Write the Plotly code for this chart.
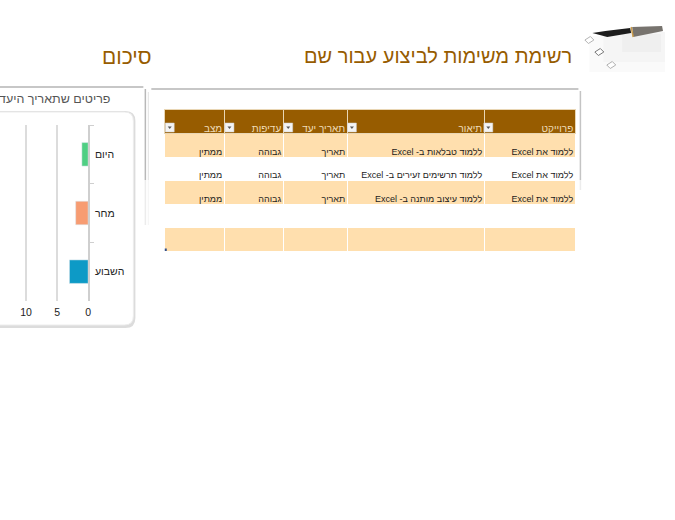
import plotly.graph_objects as go

W, H = 675, 520
BROWN = '#975c00'

# bar chart values
periods = ['היום', 'מחר', 'השבוע']
counts = [1, 2, 3]
bar_colors = ['#4fcf83', '#f79c72', '#0d9ac6']
x_ticks = [0, 5, 10]

# table values
columns = ['מצב', 'עדיפות', 'תאריך יעד', 'תיאור', 'פרוייקט']
col_widths = [60, 59, 64, 137, 91]
status = ['ממתין', 'ממתין', 'ממתין', '', '']
priority = ['גבוהה', 'גבוהה', 'גבוהה', '', '']
due = ['תאריך', 'תאריך', 'תאריך', '', '']
descr = ['\u202bללמוד טבלאות ב- Excel', '\u202bללמוד תרשימים זעירים ב- Excel',
         '\u202bללמוד עיצוב מותנה ב- Excel', '', '']
project = ['\u202bללמוד את Excel', '\u202bללמוד את Excel', '\u202bללמוד את Excel', '', '']
row_fill = ['#ffdfae', '#ffffff', '#ffdfae', '#ffffff', '#ffdfae']


def px(x):
    return x / W


def py(y):
    return 1 - y / H


def nowrap(items):
    # go.Table breaks lines at plain spaces
    return [s.replace(' ', '\u00a0') for s in items]


fig = go.Figure()

fig.add_trace(go.Bar(
    y=periods, x=counts, orientation='h', width=0.4,
    marker=dict(color=bar_colors, line=dict(color='#d8e4ea', width=0.5)),
    cliponaxis=False, showlegend=False,
))

# cell backgrounds only
blank = [''] * 5
fig.add_trace(go.Table(
    domain=dict(x=[px(165), px(578)], y=[py(255), py(109.5)]),
    columnwidth=col_widths,
    header=dict(values=[''] * 5, height=24, fill_color=BROWN, line=dict(color='#e9d6b4', width=1)),
    cells=dict(values=[blank] * 5, height=23.5,
               fill_color=[row_fill] * 5, line=dict(color='#ffffff', width=1)),
))
# text layer, nudged so the words sit low and right in each cell as in Excel
fig.add_trace(go.Table(
    domain=dict(x=[px(171), px(584)], y=[py(262), py(116)]),
    columnwidth=col_widths,
    header=dict(values=nowrap(columns), height=24, align='right',
                fill_color='rgba(0,0,0,0)', line=dict(color='rgba(0,0,0,0)', width=0),
                font=dict(family='Liberation Sans', size=10, color='#f0dcb8')),
    cells=dict(values=[nowrap(c) for c in (status, priority, due, descr, project)], height=23.5, align='right',
               fill_color='rgba(0,0,0,0)', line=dict(color='rgba(0,0,0,0)', width=0),
               font=dict(family='Liberation Sans', size=9, color='#1c1c1c')),
))

shapes = []


def rect(x0, y0, x1, y1, **kw):
    shapes.append(dict(type='rect', xref='paper', yref='paper',
                       x0=px(x0), x1=px(x1), y0=py(y0), y1=py(y1), **kw))


def poly(pts, **kw):
    p = 'M ' + ' L '.join(f'{px(x)} {py(y)}' for x, y in pts) + ' Z'
    shapes.append(dict(type='path', xref='paper', yref='paper', path=p, **kw))


def round_box(x0, y0, x1, y1, r, **kw):
    p = (f'M {px(x0)} {py(y0)} L {px(x1 - r)} {py(y0)} Q {px(x1)} {py(y0)} {px(x1)} {py(y0 + r)} '
         f'L {px(x1)} {py(y1 - r)} Q {px(x1)} {py(y1)} {px(x1 - r)} {py(y1)} '
         f'L {px(x0)} {py(y1)} Z')
    shapes.append(dict(type='path', xref='paper', yref='paper', path=p, **kw))


def line(x0, y0, x1, y1, color, width=1):
    shapes.append(dict(type='line', xref='paper', yref='paper', layer='below',
                       x0=px(x0), x1=px(x1), y0=py(y0), y1=py(y1),
                       line=dict(color=color, width=width)))


# outer panels (right edges fade out)
line(-5, 87, 144, 87, '#b5b5b5', 1.5)
line(146, 89, 146, 180, '#b8b8b8', 1.5)
line(146, 180, 146, 225, '#ececec', 1.5)
line(149, 92, 149, 180, '#e2e2e2')
line(149, 180, 149, 225, '#f4f4f4')
line(152, 89, 581, 89, '#b5b5b5', 1.5)
line(583, 91, 583, 180, '#c4c4c4', 1.5)
line(583, 180, 583, 190, '#ececec', 1.5)

# inner chart card with soft grey rim
round_box(-10, 111, 136, 328, 10, layer='below', fillcolor='#dcdcdc', line=dict(width=0))
round_box(-10, 112, 134, 325, 9, layer='below', fillcolor='#ffffff', line=dict(color='#ececec', width=1))

# filter buttons in the header cells
for x in (166, 226, 285, 349, 486):
    rect(x, 123, x + 9, 132, fillcolor='#f4f4f4', line=dict(color='#cfcfcf', width=0.5), layer='above')
    poly([(x + 2.5, 126.5), (x + 6.5, 126.5), (x + 4.5, 129)],
         fillcolor='#555555', line=dict(width=0), layer='above')

# table resize handle
rect(165.5, 248.5, 167.5, 251, fillcolor='#34508a', line=dict(width=0), layer='above')

# page header artwork: paper, checkboxes and pen
for x0, y0, x1, y1, c in [(592, 36, 668, 72, '#fafafa'), (606, 32, 668, 62, '#f5f5f5'),
                          (625, 34, 664, 52, '#efefef')]:
    rect(x0, y0, x1, y1, fillcolor=c, line=dict(width=0), layer='below')
for (cx, cy), c in zip([(592, 40), (602, 52), (614, 65)], ['#b4b4b4', '#777777', '#b0b0b0']):
    d = 4.5
    poly([(cx - d, cy), (cx + 1, cy - d + 1), (cx + d, cy), (cx - 1, cy + d - 1)],
         fillcolor='#ffffff', line=dict(color=c, width=1), layer='below')
poly([(595, 33), (608, 31), (633, 28), (634, 33), (610, 37)], fillcolor='#1c1c1c', line=dict(width=0), layer='below')
poly([(635, 27), (665, 26), (666, 31), (636, 37)], fillcolor='#77736e', line=dict(width=0), layer='below')
line(634, 27, 636, 37, '#c89a4a', 1.5)

annotations = [
    dict(text='רשימת משימות לביצוע עבור שם', x=px(577), y=py(56), xanchor='right', yanchor='middle',
         font=dict(family='Liberation Sans', size=20, color=BROWN)),
    dict(text='סיכום', x=px(155), y=py(56), xanchor='right', yanchor='middle',
         font=dict(family='Liberation Sans', size=21, color=BROWN)),
    dict(text='פריטים שתאריך היעד', x=px(112), y=py(99), xanchor='right', yanchor='middle',
         font=dict(family='Liberation Sans', size=12.5, color='#555555')),
]
for a in annotations:
    a.update(xref='paper', yref='paper', showarrow=False)

fig.update_layout(
    width=W, height=H, autosize=False,
    margin=dict(l=0, r=0, t=0, b=0),
    paper_bgcolor='white', plot_bgcolor='rgba(0,0,0,0)',
    font=dict(family='Liberation Sans', size=10.5, color='#222222'),
    shapes=shapes,
    annotations=annotations,
    xaxis=dict(domain=[0, px(88.5)], range=[14.2, 0], tickvals=x_ticks, showgrid=True,
               gridcolor='#dcdcdc', gridwidth=1.5, zeroline=False, showline=False,
               ticks='', ticklabelstandoff=3),
    yaxis=dict(domain=[py(301), py(125)], side='right', autorange='reversed', type='category',
               showgrid=False, showline=True, linecolor='#cfcfcf', linewidth=1.5,
               ticks='outside', ticklen=4, tickcolor='#cfcfcf', tickson='boundaries',
               ticklabelstandoff=3),
)

fig.write_html('out.html', config=dict(displayModeBar=False),
               post_script="document.body.style.margin='0';document.body.style.overflow='hidden';")
